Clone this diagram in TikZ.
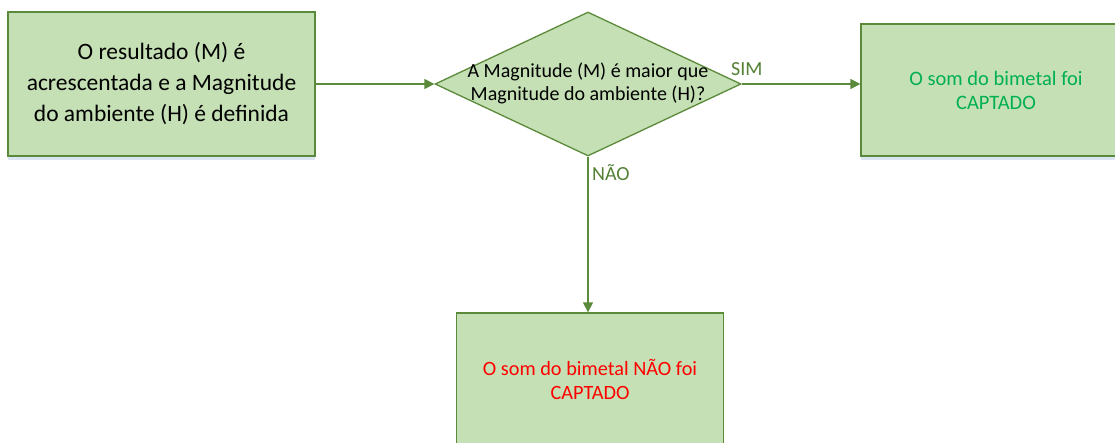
\documentclass[tikz,border=0pt]{standalone}
\usepackage{fontspec}
\setmainfont{Carlito}
\usetikzlibrary{shapes.geometric,arrows.meta}
\definecolor{boxfill}{HTML}{C5E0B4}
\definecolor{boxline}{HTML}{5A8A3A}
\definecolor{shadowc}{HTML}{DCE6F2}
\definecolor{lblgreen}{HTML}{538135}
\definecolor{txtgreen}{HTML}{00B050}
\definecolor{txtred}{HTML}{FF0000}
\tikzset{
  procbox/.style={draw=boxline, fill=boxfill, line width=1.3pt, inner sep=0pt, align=center},
  decbox/.style={diamond, draw=boxline, fill=boxfill, line width=1.3pt, inner sep=0pt, aspect=2.125},
  conn/.style={draw=boxline, line width=1.3pt, -{Triangle[length=10pt,width=10pt]}},
  lbl/.style={text=lblgreen, font=\fontsize{20}{24}\selectfont, inner sep=0pt, anchor=base west},
  shadowbox/.style={fill=shadowc, draw=none}
}
\begin{document}
\begin{tikzpicture}[x=1pt,y=-1pt]
\path[use as bounding box, clip] (0,0) rectangle (1115,442);
\fill[white] (0,0) rectangle (1115,442);
% shadows
\fill[shadowc] (8,156) rectangle (315,160);
\fill[shadowc] (861,156) rectangle (1131,160);
% left box
\node[procbox, minimum width=307pt, minimum height=144pt,
      font=\fontsize{23.5}{31}\selectfont] (start) at (161.5,84)
  {O resultado (M) é\\acrescentada e a Magnitude\\do ambiente (H) é definida};
% decision
\node[decbox, minimum width=306pt, minimum height=144pt] (dec) at (588,84) {};
\node[font=\fontsize{20}{23}\selectfont, align=center, inner sep=0pt] (dectext) at (588,83.5)
  {A Magnitude (M) é maior que\\Magnitude do ambiente (H)?};
% right box
\node[procbox, minimum width=270pt, minimum height=132pt, text=txtgreen,
      font=\fontsize{20.5}{24}\selectfont] (yes) at (996,90)
  {O som do bimetal foi\\CAPTADO};
% bottom box
\node[procbox, minimum width=267pt, minimum height=132pt, text=txtred,
      font=\fontsize{20.3}{24}\selectfont] (no) at (590,379)
  {O som do bimetal NÃO foi\\CAPTADO};
% connectors
\draw[conn] (start.east) -- (dec.west);
\draw[conn] (dec.east) -- (dec.east -| yes.west);
\draw[conn] (dec.south) -- (dec.south |- no.north);
% labels
\node[lbl] (simlbl) at (731,75) {SIM};
\node[lbl] (naolbl) at (592,180) {NÃO};
\end{tikzpicture}
\end{document}
